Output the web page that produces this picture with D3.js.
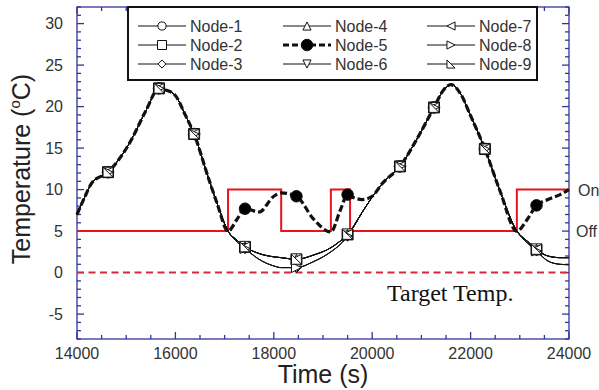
<!DOCTYPE html>
<html>
<head>
<meta charset="utf-8">
<script src="https://cdn.jsdelivr.net/npm/d3@7"></script>
<style>
	body { margin: 0; background: #fff; }
</style>
</head>
<body>
<div id="chart"></div>
<script>
// Data

const times = [14000, 14150, 14300, 14630, 15077, 15400, 15667, 15800, 15990, 16200, 16380, 16660, 16850, 17070, 17250, 17415, 17700, 18000, 18150, 18460, 18800, 19160, 19350, 19500, 19560, 19800, 20000, 20200, 20565, 20900, 21256, 21450, 21600, 21800, 22000, 22290, 22600, 22940, 23150, 23340, 23570, 23820, 24000]

const upperTemps = [7.0, 9.0, 10.8, 12.1, 15.7, 19.5, 22.2, 22.0, 21.4, 19.0, 16.7, 11.6, 8.3, 5.0, 3.9, 3.1, 2.3, 1.9, 1.8, 1.6, 2.1, 3.0, 3.8, 4.6, 5.0, 7.3, 9.1, 10.7, 12.8, 16.0, 19.9, 22.0, 22.65, 21.5, 18.9, 14.9, 9.8, 5.0, 3.8, 2.8, 2.0, 1.8, 1.8]

const lowerTemps = [7.0, 9.0, 10.8, 12.1, 15.7, 19.5, 22.2, 22.0, 21.4, 19.0, 16.7, 11.6, 8.3, 5.0, 3.7, 2.9, 1.6, 0.8, 0.6, 0.6, 1.3, 2.5, 3.4, 4.4, 5.0, 7.3, 9.1, 10.7, 12.8, 16.0, 19.9, 22.0, 22.65, 21.5, 18.9, 14.9, 9.8, 5.0, 3.6, 2.6, 1.4, 1.0, 0.95]

const node5Temps = [7.0, 9.0, 10.8, 12.1, 15.7, 19.5, 22.2, 22.0, 21.4, 19.0, 16.7, 11.6, 8.3, 5.0, 6.4, 7.7, 7.3, 9.2, 9.6, 9.2, 6.5, 4.9, 7.5, 9.4, 9.2, 8.8, 9.2, 10.7, 12.8, 16.0, 19.9, 22.0, 22.65, 21.5, 18.9, 14.9, 9.8, 5.0, 6.4, 8.1, 8.8, 9.4, 10.0]

const markerTimes = [14630, 15667, 16380, 17415, 18460, 19500, 20565, 21256, 22290, 23340]

const nodeNames = ['Node-1', 'Node-2', 'Node-3', 'Node-4', 'Node-5', 'Node-6', 'Node-7', 'Node-8', 'Node-9']
const nodeCurve = ['upper', 'upper', 'lower', 'upper', 'node5', 'lower', 'upper', 'lower', 'upper']

const heaterTimes = [14000, 17070, 18150, 19160, 19550, 22940, 24000]
const heaterTemps = [5, 10, 5, 10, 5, 10, 10]

const targetTimes = [14000, 24000]
const targetTemps = [0, 0]

const xTicks = [14000, 16000, 18000, 20000, 22000, 24000]
const yTicks = [-5, 0, 5, 10, 15, 20, 25, 30]

// Chart

const svgWidth = 599
const svgHeight = 390
const margin = { top: 7, right: 30, bottom: 51, left: 77 }
const width = svgWidth - margin.left - margin.right
const height = svgHeight - margin.top - margin.bottom
const axisColor = '#34349a'
const sans = "Arial, 'Liberation Sans', sans-serif"

const curves = { upper: upperTemps, lower: lowerTemps, node5: node5Temps }

const svg = d3
	.select('#chart')
	.append('svg')
	.attr('width', svgWidth)
	.attr('height', svgHeight)
	.attr('font-family', sans)

const g = svg.append('g').attr('transform', `translate(${margin.left},${margin.top})`)

const x = d3.scaleLinear().domain([14000, 24000]).range([0, width])
const y = d3.scaleLinear().domain([-8, 32]).range([height, 0])

// marker shapes, h = half size
function markerPath(i, h) {
	const t = h * 0.9
	switch (i) {
		case 0: return d3.symbol().type(d3.symbolCircle).size(Math.PI * t * t)()
		case 1: return `M${-h},${-h}H${h}V${h}H${-h}Z`
		case 2: return `M0,${-t}L${t},0L0,${t}L${-t},0Z`
		case 3: return `M0,${-t}L${t},${t}H${-t}Z`
		case 4: return d3.symbol().type(d3.symbolCircle).size(Math.PI * h * h * 1.1)()
		case 5: return `M0,${t}L${t},${-t}H${-t}Z`
		case 6: return `M${-t},0L${t},${-t}V${t}Z`
		case 7: return `M${t},0L${-t},${-t}V${t}Z`
		case 8: return `M${-t},${-t}L${-t},${t}H${t}Z`
	}
}

// axes
const xMinor = d3.range(14000, 24001, 500)
const yMinor = d3.range(-8, 33, 1)

const axes = g.append('g').attr('stroke', axisColor).attr('stroke-width', 1.3)
axes.append('rect').attr('width', width).attr('height', height).attr('fill', 'none')

axes.selectAll('.xt').data(xMinor).enter().append('g').each(function (d) {
	const len = d % 2000 === 0 ? 7 : 4
	d3.select(this).append('line').attr('x1', x(d)).attr('x2', x(d)).attr('y1', height).attr('y2', height - len)
	d3.select(this).append('line').attr('x1', x(d)).attr('x2', x(d)).attr('y1', 0).attr('y2', len)
})
axes.selectAll('.yt').data(yMinor).enter().append('g').each(function (d) {
	const len = d % 5 === 0 ? 7 : 4
	d3.select(this).append('line').attr('x1', 0).attr('x2', len).attr('y1', y(d)).attr('y2', y(d))
	d3.select(this).append('line').attr('x1', width).attr('x2', width - len).attr('y1', y(d)).attr('y2', y(d))
})

g.selectAll('.xl').data(xTicks).enter().append('text')
	.attr('x', (d) => x(d)).attr('y', height + 20)
	.attr('text-anchor', 'middle').attr('font-size', 16).attr('fill', '#333')
	.text((d) => d)
g.selectAll('.yl').data(yTicks).enter().append('text')
	.attr('x', -14).attr('y', (d) => y(d) + 5.5)
	.attr('text-anchor', 'end').attr('font-size', 16).attr('fill', '#333')
	.text((d) => d)

// axis titles
svg.append('text')
	.attr('x', margin.left + width / 2).attr('y', 383)
	.attr('text-anchor', 'middle').attr('font-size', 25).attr('fill', '#222')
	.text('Time (s)')
const yt = svg.append('text')
	.attr('transform', `translate(30,${margin.top + height / 2 - 4}) rotate(-90)`)
	.attr('text-anchor', 'middle').attr('font-size', 25).attr('fill', '#222')
yt.append('tspan').text('Temperature (')
yt.append('tspan').attr('font-size', 15).attr('dy', -10).text('o')
yt.append('tspan').attr('dy', 10).text('C)')

// target and heater lines
const line = d3.line().x((d) => x(d[0])).y((d) => y(d[1]))
const step = d3.line().x((d) => x(d[0])).y((d) => y(d[1])).curve(d3.curveStepAfter)

g.append('path')
	.datum(d3.zip(targetTimes, targetTemps))
	.attr('fill', 'none').attr('stroke', '#d8283c').attr('stroke-width', 2)
	.attr('stroke-dasharray', '7,4.5')
	.attr('d', line)

g.append('path')
	.datum(d3.zip(heaterTimes, heaterTemps))
	.attr('fill', 'none').attr('stroke', '#e8141c').attr('stroke-width', 2)
	.attr('d', step)

// node lines
const smooth = d3.line().x((d) => x(d[0])).y((d) => y(d[1])).curve(d3.curveMonotoneX)

nodeNames.forEach((name, i) => {
	const data = d3.zip(times, curves[nodeCurve[i]])
	const p = g.append('path').datum(data).attr('fill', 'none').attr('stroke', '#111').attr('d', smooth)
	if (i === 4) p.attr('stroke-width', 3.2).attr('stroke-dasharray', '7,3')
	else p.attr('stroke-width', 1)
})

// markers: node-5 first so the open markers of the others sit over it
const order = [4, 0, 1, 2, 3, 5, 6, 7, 8]
order.forEach((i) => {
	const vals = curves[nodeCurve[i]]
	const pts = times.map((t, k) => [t, vals[k]]).filter((d) => markerTimes.includes(d[0]))
	g.selectAll(null).data(pts).enter().append('path')
		.attr('d', markerPath(i, 5.5))
		.attr('transform', (d) => `translate(${x(d[0])},${y(d[1])})`)
		.attr('fill', i === 4 ? '#000' : '#fff')
		.attr('stroke', '#111').attr('stroke-width', 1)
})

// legend
const legend = svg.append('g')
legend.append('rect')
	.attr('x', 128).attr('y', 7).attr('width', 409).attr('height', 73)
	.attr('fill', '#fff').attr('stroke', '#111').attr('stroke-width', 2)

const colX = [138, 283, 427]
const rowY = [26, 45, 64]
nodeNames.forEach((name, i) => {
	const cx = colX[Math.floor(i / 3)]
	const cy = rowY[i % 3]
	const item = legend.append('g').attr('transform', `translate(${cx},${cy})`)
	const ln = item.append('line').attr('x1', 0).attr('x2', 48).attr('y1', 0).attr('y2', 0).attr('stroke', '#111')
	if (i === 4) ln.attr('stroke-width', 3).attr('stroke-dasharray', '6,3')
	else ln.attr('stroke-width', 1)
	item.append('path')
		.attr('d', markerPath(i, i === 4 ? 5.5 : 4.5))
		.attr('transform', 'translate(24,0)')
		.attr('fill', i === 4 ? '#000' : '#fff')
		.attr('stroke', '#111').attr('stroke-width', 1)
	item.append('text')
		.attr('x', 52).attr('y', 6)
		.attr('font-size', 16).attr('fill', '#333')
		.text(name)
})

// annotations
svg.append('text').attr('x', margin.left + x(24000) + 9).attr('y', margin.top + y(10) + 6)
	.attr('font-size', 16).attr('fill', '#333').text('On')
svg.append('text').attr('x', margin.left + x(24000) + 7).attr('y', margin.top + y(5) + 6)
	.attr('font-size', 16).attr('fill', '#333').text('Off')
svg.append('text').attr('x', 387).attr('y', 301)
	.style('font-family', "'Liberation Serif', 'Times New Roman', serif")
	.attr('font-size', 24).attr('fill', '#111').text('Target Temp.')
</script>
</body>
</html>
